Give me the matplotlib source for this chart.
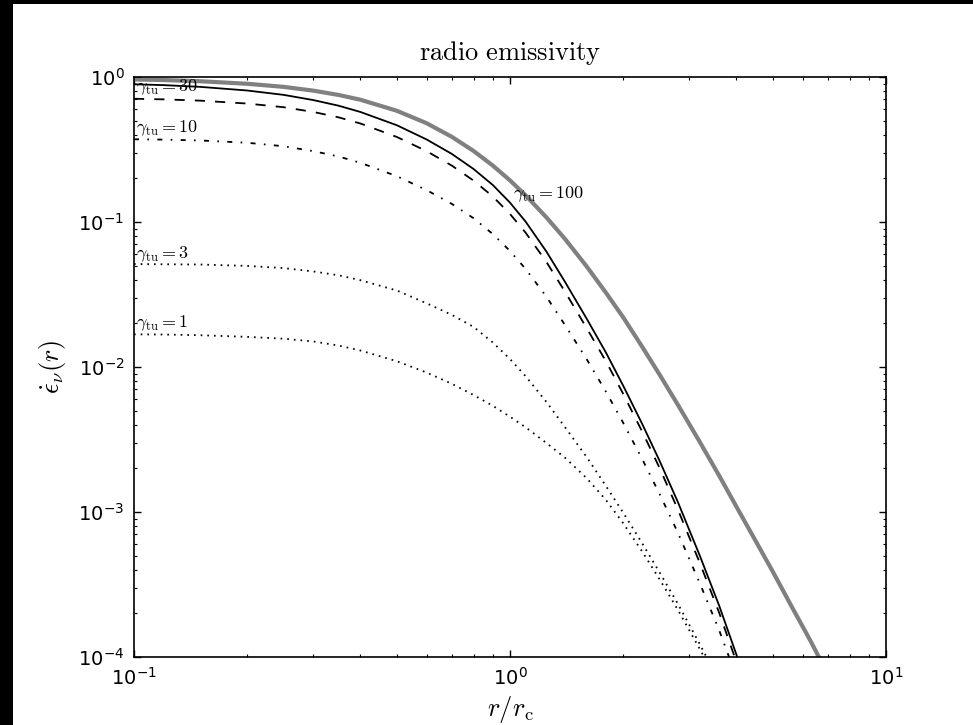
import matplotlib
matplotlib.use('Agg')
import matplotlib.pyplot as plt
from matplotlib.patches import Rectangle
from matplotlib.ticker import NullFormatter, LogLocator

# radii (r / r_c) at which the curves were read
r = [0.1, 0.12, 0.15, 0.2, 0.25, 0.3, 0.35, 0.4, 0.5, 0.6, 0.7, 0.8, 0.9, 1.0,
     1.1, 1.25, 1.4, 1.6, 1.8, 2.0, 2.25, 2.5, 2.8, 3.2, 3.6, 4.0, 4.5]
r_grey = r + [5.0, 5.6, 6.3, 7.0]

# emissivity curves
grey_curve = [0.962, 0.953, 0.935, 0.898, 0.855, 0.805, 0.752, 0.697, 0.585, 0.480,
              0.387, 0.309, 0.245, 0.1936, 0.1528, 0.1076, 0.0765, 0.0493, 0.0325,
              0.0220, 0.01371, 0.00885, 0.00545, 0.00303, 0.00178, 0.00109,
              0.000632, 0.000388, 0.000225, 0.000129, 7.6e-5]
gamma100 = [0.891, 0.879, 0.855, 0.807, 0.753, 0.693, 0.634, 0.574, 0.465, 0.371,
            0.295, 0.232, 0.180, 0.136, 0.1007, 0.0625, 0.0387, 0.0215, 0.01256,
            0.00743, 0.00402, 0.00225, 0.00116, 0.000497, 0.000226, 0.000104, 4.14e-5]
gamma30 = [0.708, 0.701, 0.687, 0.656, 0.619, 0.574, 0.527, 0.478, 0.386, 0.308,
           0.245, 0.193, 0.150, 0.1135, 0.0845, 0.0530, 0.0331, 0.0185, 0.01094,
           0.00653, 0.00356, 0.00201, 0.00103, 0.000443, 0.000202, 9.25e-5, 3.7e-5]
gamma10 = [0.372, 0.370, 0.365, 0.352, 0.333, 0.308, 0.283, 0.256, 0.207, 0.166,
           0.1334, 0.1062, 0.0826, 0.0631, 0.0475, 0.0305, 0.0195, 0.0113, 0.00675,
           0.00412, 0.00230, 0.00133, 0.000714, 0.000321, 0.000153, 7.3e-5, 3e-5]
gamma3 = [0.0513, 0.0511, 0.0509, 0.0498, 0.0481, 0.0456, 0.0429, 0.0397, 0.0337,
          0.0275, 0.0229, 0.0189, 0.01476, 0.01135, 0.00865, 0.00574, 0.00385,
          0.00239, 0.00151, 0.000989, 0.000605, 0.000383, 0.000231, 0.000122,
          6.8e-5, 3.5e-5, 1.5e-5]
gamma1 = [0.0168, 0.01675, 0.01656, 0.01614, 0.01567, 0.0150, 0.01406, 0.0130,
          0.01096, 0.00916, 0.00766, 0.00641, 0.0054, 0.00454, 0.00384, 0.00299,
          0.00237, 0.00171, 0.00121, 0.000837, 0.000531, 0.000343, 0.00021,
          0.000113, 6.4e-5, 3e-5, 1.2e-5]

# curve labels: text, r position, emissivity position
label_text = [r'$\gamma_\mathrm{tu}=30$', r'$\gamma_\mathrm{tu}=10$',
              r'$\gamma_\mathrm{tu}=3$', r'$\gamma_\mathrm{tu}=1$',
              r'$\gamma_\mathrm{tu}=100$']
label_r = [0.1015, 0.1015, 0.1015, 0.1015, 1.017]
label_y = [0.792, 0.413, 0.0561, 0.0188, 0.147]

xticks = [0.1, 1, 10]
xticklabels = [r'$10^{-1}$', r'$10^{0}$', r'$10^{1}$']
yticks = [1e-4, 1e-3, 1e-2, 1e-1, 1]
yticklabels = [r'$10^{-4}$', r'$10^{-3}$', r'$10^{-2}$', r'$10^{-1}$', r'$10^{0}$']

plt.rcParams['mathtext.fontset'] = 'dejavusans'
plt.rcParams['lines.scale_dashes'] = False
plt.rcParams['axes.linewidth'] = 1.2

fig = plt.figure(figsize=(9.73, 7.25), dpi=100)
ax = fig.add_axes([134/973, 68/725, 752/973, 580/725])

ax.plot(r_grey, grey_curve, color='0.5', lw=3.0)
ax.plot(r, gamma100, color='k', lw=1.3, ls='-')
ax.plot(r, gamma30, color='k', lw=1.3, ls=(0, (7.3, 7.3)))
ax.plot(r, gamma10, color='k', lw=1.3, ls=(0, (3.6, 6.0, 1.2, 6.0)))
ax.plot(r, gamma3, color='k', lw=1.3, ls=(0, (1.2, 3.6)))
ax.plot(r, gamma1, color='k', lw=1.3, ls=(0, (1.2, 3.6)))

for txt, xr, yv in zip(label_text, label_r, label_y):
    ax.text(xr, yv, txt, fontsize=13, ha='left', va='baseline', math_fontfamily='cm')

ax.set_xscale('log')
ax.set_yscale('log')
ax.set_xlim(0.1, 10)
ax.set_ylim(1e-4, 1)
ax.set_xticks(xticks, xticklabels)
ax.set_yticks(yticks, yticklabels)
ax.xaxis.set_minor_locator(LogLocator(base=10, subs=range(2, 10)))
ax.yaxis.set_minor_locator(LogLocator(base=10, subs=range(2, 10)))
ax.xaxis.set_minor_formatter(NullFormatter())
ax.yaxis.set_minor_formatter(NullFormatter())
ax.tick_params(which='both', direction='in', top=True, right=True, labelsize=14)
ax.tick_params(which='major', length=5, width=1, pad=7)
ax.tick_params(which='minor', length=2.5, width=0.8)

ax.set_title(r'$\mathrm{radio\ emissivity}$', fontsize=19, pad=12, math_fontfamily='cm')
ax.set_xlabel(r'$r/r_\mathrm{c}$', fontsize=19, labelpad=4, math_fontfamily='cm')
ax.set_ylabel(r'$\dot{\epsilon}_\nu(r)$', fontsize=19, labelpad=7, math_fontfamily='cm')

# dark edges of the original image
fig.patches.append(Rectangle((0, 0), 13/973, 1, transform=fig.transFigure,
                             facecolor='k', edgecolor='none', zorder=10))
fig.patches.append(Rectangle((0, 1 - 4/725), 1, 4/725, transform=fig.transFigure,
                             facecolor='k', edgecolor='none', zorder=10))

fig.savefig('out.png', dpi=100)
